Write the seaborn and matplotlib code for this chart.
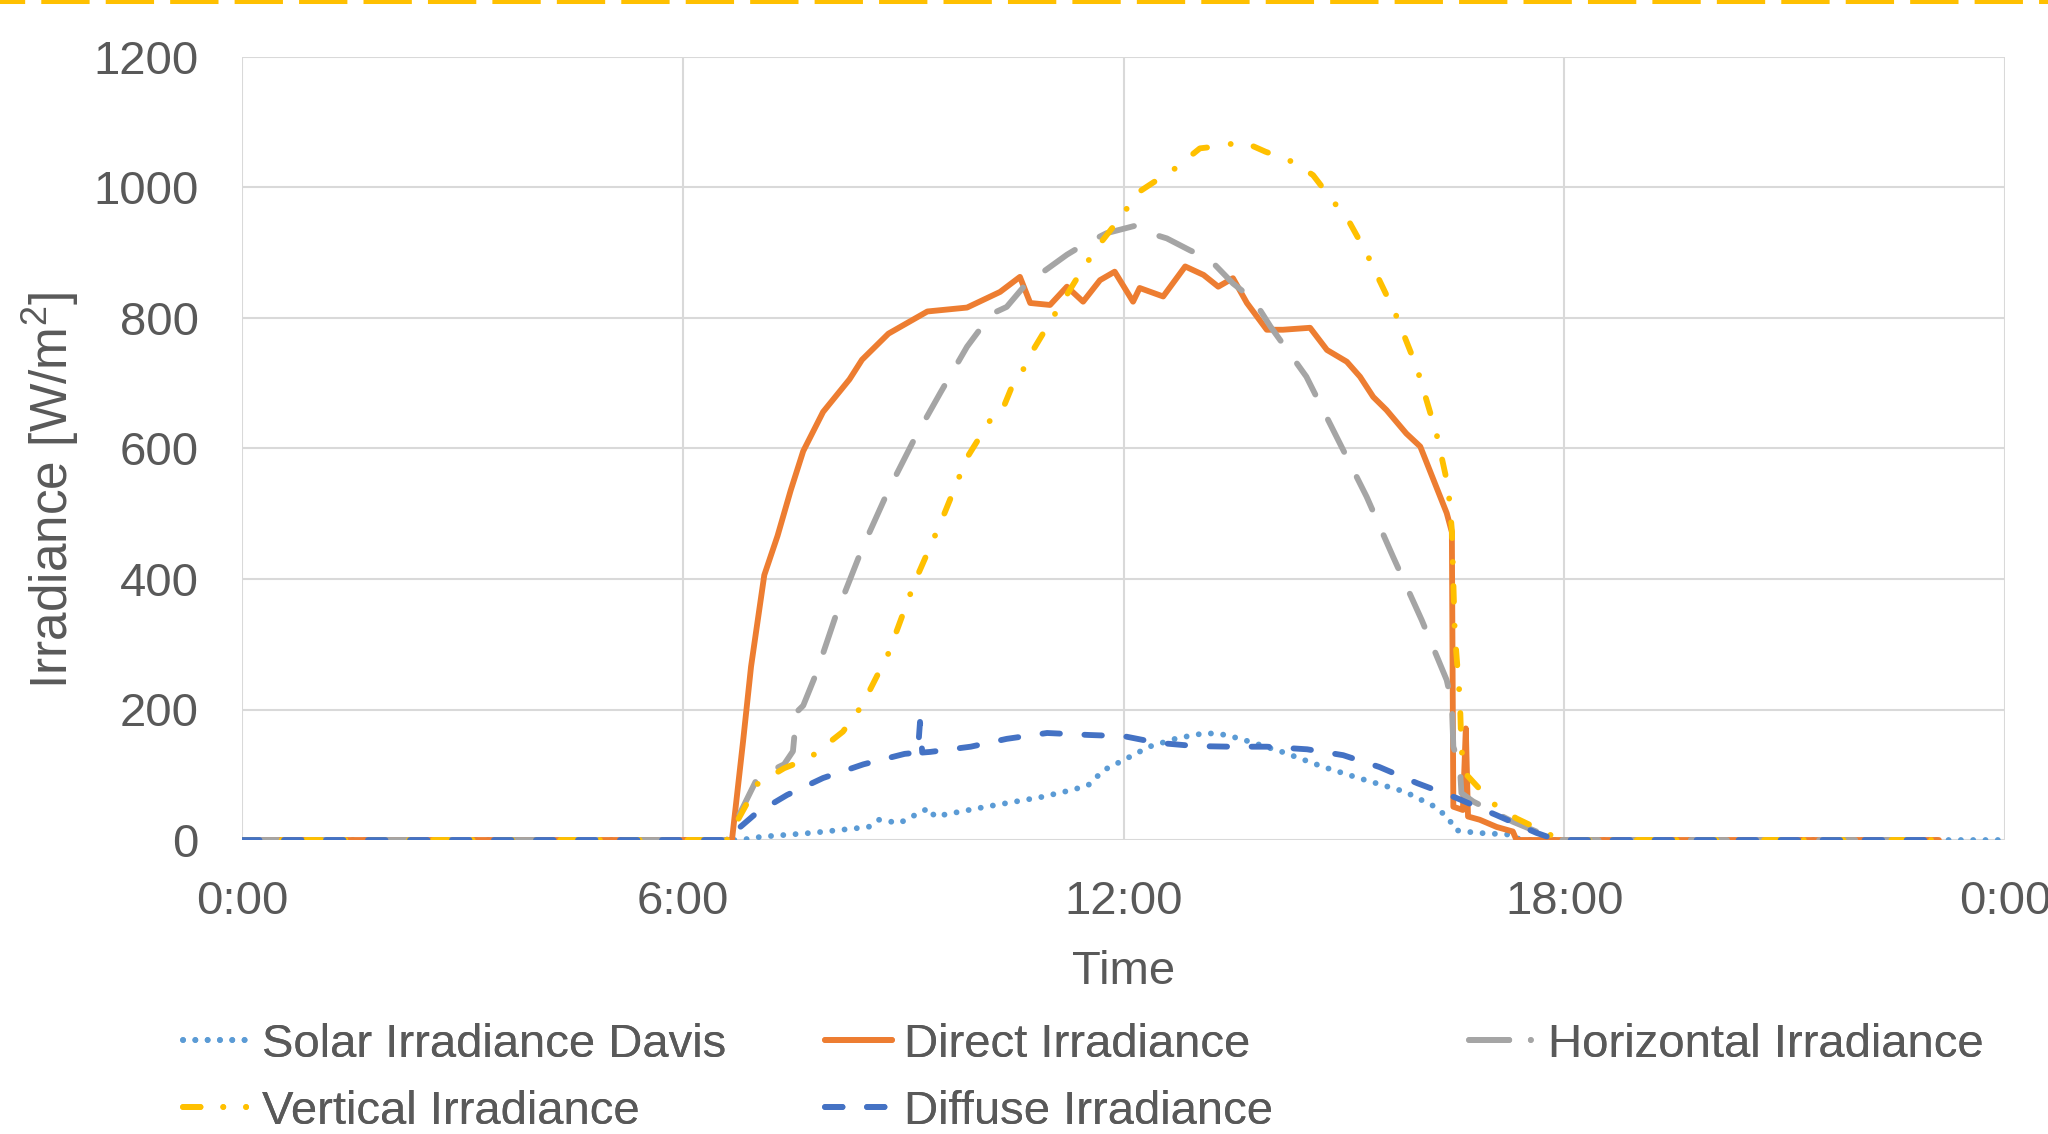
import matplotlib
matplotlib.use("Agg")
import matplotlib.pyplot as plt
from matplotlib.lines import Line2D
import seaborn as sns

# ---------------------------------------------------------------------------
# Data (time in hours, irradiance in W/m2)
# ---------------------------------------------------------------------------
solar_t = [0, 6.79, 7.07, 7.77, 8.53, 8.67, 8.95, 9.35, 9.43, 10.13, 10.89, 11.31, 11.52,
           11.73, 12.01, 12.35, 12.73, 13.12, 13.40, 13.71, 14.16, 14.72, 15.2, 15.83,
           16.24, 16.42, 16.52, 16.8, 17.3, 17.4, 24]
solar_v = [0, 0, 5, 11, 20, 31, 26, 49, 36, 51, 66, 77, 84,
           107, 123, 143, 156, 164, 161, 151, 135, 112, 95, 74,
           51, 34, 15, 11, 8, 0, 0]

direct_t = [0, 6.67, 6.82, 6.93, 7.11, 7.29, 7.47, 7.64, 7.91, 8.27, 8.44, 8.8, 9.33, 9.87,
            10.32, 10.59, 10.73, 11.0, 11.23, 11.45, 11.68, 11.88, 12.13, 12.22, 12.54,
            12.84, 13.09, 13.29, 13.49, 13.68, 13.95, 14.17, 14.54, 14.77, 15.04, 15.22,
            15.40, 15.58, 15.85, 16.04, 16.22, 16.40, 16.47, 16.49, 16.62, 16.66, 16.69,
            16.85, 17.08, 17.30, 17.35, 23.1]
direct_v = [0, 0, 150, 266, 406, 466, 536, 596, 656, 706, 736, 776, 810, 816,
            840, 863, 823, 820, 848, 825, 858, 871, 825, 846, 833,
            879, 866, 848, 861, 823, 782, 782, 785, 751, 733, 710,
            679, 659, 623, 603, 552, 501, 472, 51, 46, 171, 36,
            31, 20, 13, 0, 0]

horiz_t = [0, 6.6, 7.02, 7.38, 7.5, 7.55, 7.64, 7.82, 8.09, 8.44, 8.8, 9.16, 9.51, 9.87,
           10.2, 10.41, 10.68, 10.91, 11.23, 11.45, 11.77, 12.18, 12.36, 12.59, 12.9,
           13.18, 13.49, 13.77, 14.0, 14.49, 14.9, 15.31, 15.67, 16.06, 16.40, 16.47,
           16.49, 16.58, 16.60, 16.76, 17.30, 17.9, 23.1]
horiz_v = [0, 0, 96, 116, 136, 196, 206, 256, 346, 446, 536, 616, 686, 756,
           806, 817, 853, 871, 897, 912, 930, 942, 930, 922, 904,
           889, 853, 828, 787, 710, 618, 526, 434, 337, 245, 210,
           143, 112, 72, 59, 28, 0, 0]

vert_t = [0, 6.6, 7.02, 7.38, 7.73, 8.18, 8.44, 8.8, 9.16, 9.51, 9.87, 10.2, 10.34,
          10.5, 10.63, 10.77, 11.0, 11.45, 11.68, 12.0, 12.18, 12.45, 12.70, 13.04,
          13.27, 13.63, 13.93, 14.31, 14.58, 14.86, 15.06, 15.31, 15.47, 15.70, 15.99,
          16.26, 16.42, 16.47, 16.51, 16.58, 16.60, 16.67, 17.03, 17.35, 17.76, 17.94, 23.1]
vert_v = [0, 0, 86, 110, 126, 166, 206, 286, 396, 486, 586, 646, 656,
          700, 720, 751, 794, 876, 914, 960, 991, 1011, 1029, 1060,
          1063, 1070, 1055, 1039, 1019, 978, 950, 899, 861, 807, 725,
          623, 541, 475, 317, 215, 138, 100, 56, 33, 11, 0, 0]

diffuse_t = [0, 6.6, 6.66, 7.0, 7.42, 7.91, 8.46, 9.02, 9.2, 9.23, 9.26, 9.37, 9.92, 10.41,
             10.96, 11.52, 12.01, 12.46, 12.97, 13.46, 13.95, 14.50, 14.99, 15.48, 16.0,
             16.52, 17.08, 17.62, 17.9, 23.1]
diffuse_v = [0, 0, 8, 41, 69, 95, 116, 132, 134, 181, 134, 135, 143, 155,
             164, 161, 159, 149, 144, 143, 143, 139, 130, 112, 87,
             65, 38, 11, 0, 0]

names = ["Solar Irradiance Davis", "Direct Irradiance", "Horizontal Irradiance",
         "Vertical Irradiance", "Diffuse Irradiance"]
colors = ["#5B9BD5", "#ED7D31", "#A5A5A5", "#FFC000", "#4472C4"]

TEXT = "#595959"
GRID = "#D9D9D9"
FS = 34
LW = 4.2

# line patterns in units of line width (round caps add one width per segment)
plot_styles = [(0, (0.01, 2.1)),
               "-",
               (0, (6.2, 4.8)),
               (0, (2.7, 4.1, 0.01, 4.1)),
               (0, (3.0, 4.2))]
legend_styles = [(0, (0.01, 2.1)),
                 "-",
                 (0, (6.9, 3.7, 0.01, 3.7)),
                 (0, (3.0, 3.9, 0.01, 3.9, 0.01, 9)),
                 (0, (3.0, 4.2))]

sns.set_theme(style="white")
plt.rcParams["font.family"] = ["Liberation Sans", "DejaVu Sans"]
plt.rcParams["mathtext.fontset"] = "custom"
plt.rcParams["mathtext.rm"] = "Liberation Sans"
plt.rcParams["mathtext.it"] = "Liberation Sans"

fig = plt.figure(figsize=(20.48, 11.34), dpi=100)
ax = fig.add_axes([242 / 2048, 1 - 840 / 1134, 1763 / 2048, 783 / 1134])

series = [(solar_t, solar_v), (direct_t, direct_v), (horiz_t, horiz_v),
          (vert_t, vert_v), (diffuse_t, diffuse_v)]
for i, ((t, v), c, ls) in enumerate(zip(series, colors, plot_styles)):
    sns.lineplot(x=t, y=v, ax=ax, color=c, lw=LW, linestyle=ls, sort=False,
                 estimator=None, dash_capstyle="round", solid_capstyle="round",
                 solid_joinstyle="round", dash_joinstyle="round",
                 zorder=3 + i, legend=False)

ax.set_xlim(0, 24)
ax.set_ylim(0, 1200)
ax.set_xticks([0, 6, 12, 18, 24])
ax.set_xticklabels(["0:00", "6:00", "12:00", "18:00", "0:00"])
ax.set_yticks(range(0, 1201, 200))
ax.tick_params(axis="both", length=0, labelsize=FS, labelcolor=TEXT)
ax.tick_params(axis="y", pad=31)
ax.tick_params(axis="x", pad=29)
ax.grid(True, color=GRID, lw=1.5, zorder=0)
ax.set_axisbelow(True)
for s in ax.spines.values():
    s.set_visible(False)

ax.set_xlabel("Time", fontsize=FS, color=TEXT)
ax.set_ylabel("Irradiance [W/m$^2$]", fontsize=37, color=TEXT)
ax.xaxis.set_label_coords(0.5, -(950 - 840) / 783)
ax.yaxis.set_label_coords(-(242 - 81) / 1763, 0.447)

# legend proxies and three evenly spaced legend columns
proxies = [Line2D([], [], color=c, lw=LW, linestyle=ls, dash_capstyle="round",
                  solid_capstyle="round")
           for c, ls in zip(colors, legend_styles)]
legend_cols = [[0, 3], [1, 4], [2]]
col_x = [183 / 2048, 825 / 2048, 1469 / 2048]
for idx, x0 in zip(legend_cols, col_x):
    leg = fig.legend(handles=[proxies[i] for i in idx], labels=[names[i] for i in idx],
                     loc="upper left", bbox_to_anchor=(x0, 1 - 1023 / 1134),
                     frameon=False, fontsize=FS, handlelength=1.42, handletextpad=0.25,
                     borderpad=0, borderaxespad=0, labelspacing=0.48,
                     labelcolor=TEXT)
    fig.add_artist(leg)

# dashed border at the top of the picture
fig.add_artist(Line2D([0, 1], [1 - 2 / 1134, 1 - 2 / 1134], transform=fig.transFigure,
                      color="#FFC000", lw=2.9, linestyle=(5.75, (12, 4)),
                      dash_capstyle="butt"))

fig.savefig("out.png", dpi=100)
